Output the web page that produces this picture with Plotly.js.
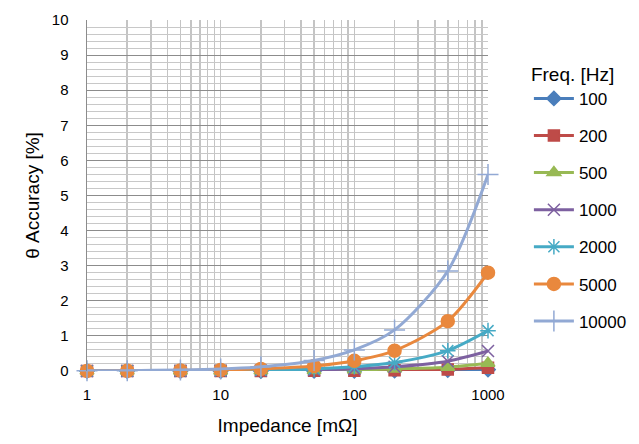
<!DOCTYPE html>
<html>
<head>
<meta charset="utf-8">
<script src="https://cdn.plot.ly/plotly-3.0.1.min.js"></script>
<style>html,body{margin:0;padding:0;background:#fff}#chart{width:639px;height:444px}</style>
</head>
<body>
<div id="chart"></div>
<script>
const impedance = [1, 2, 5, 10, 20, 50, 100, 200, 500, 1000];
const seriesNames = ["100", "200", "500", "1000", "2000", "5000", "10000"];
const f100   = [0, 0, 0, 0.001, 0.001, 0.003, 0.005, 0.01, 0.025, 0.04];
const f200   = [0, 0, 0.001, 0.001, 0.002, 0.005, 0.01, 0.02, 0.045, 0.09];
const f500   = [0, 0.001, 0.002, 0.003, 0.006, 0.015, 0.03, 0.06, 0.11, 0.22];
const f1000  = [0.001, 0.001, 0.003, 0.006, 0.012, 0.03, 0.06, 0.12, 0.28, 0.57];
const f2000  = [0.001, 0.002, 0.006, 0.012, 0.024, 0.06, 0.12, 0.24, 0.58, 1.15];
const f5000  = [0.003, 0.005, 0.015, 0.03, 0.06, 0.14, 0.29, 0.58, 1.42, 2.8];
const f10000 = [0.005, 0.01, 0.03, 0.06, 0.12, 0.3, 0.6, 1.17, 2.85, 5.6];
const yTicks = [0,1,2,3,4,5,6,7,8,9,10];
const xTicks = [1, 10, 100, 1000];

const values = [f100, f200, f500, f1000, f2000, f5000, f10000];
const colors = ["#4A7EBB", "#BE4B48", "#98B954", "#7D60A0", "#46AAC5", "#E9883D", "#92A9D4"];
const symbols = ["diamond", "square", "triangle-up", "x-thin-open", "asterisk-open", "circle", "cross-thin-open"];
const sizes = [11, 11, 12, 12, 13, 13, 15];

const traces = values.map((v, i) => ({
  x: impedance, y: v, name: seriesNames[i], type: "scatter", mode: "lines+markers",
  legendgroup: "g" + i,
  line: {color: colors[i], width: 3, shape: "spline", smoothing: 0.8},
  marker: {symbol: symbols[i], size: sizes[i], color: colors[i], line: {color: colors[i], width: 1.5}},
  cliponaxis: false
}));

const layout = {
  width: 639, height: 444,
  margin: {l: 87, r: 151, t: 20, b: 73, autoexpand: false},
  paper_bgcolor: "#fff", plot_bgcolor: "#fff",
  font: {family: "Liberation Sans, Arial, sans-serif", color: "#000"},
  showlegend: true,
  legend: {
    x: 1.102, xanchor: "left", y: 0.897, yanchor: "top",
    title: {text: "Freq. [Hz]", font: {size: 19}},
    font: {size: 17}, traceorder: "grouped", tracegroupgap: 12,
    itemwidth: 40, bgcolor: "rgba(0,0,0,0)"
  },
  xaxis: {
    type: "log", range: [0, 3], automargin: false,
    tickvals: xTicks, ticktext: xTicks.map(String),
    tickfont: {size: 15}, ticks: "", ticklabelstandoff: 13,
    showgrid: true, gridcolor: "#C4C4C4", gridwidth: 1.5,
    minor: {dtick: "D1", showgrid: true, gridcolor: "#C4C4C4", gridwidth: 1.5},
    showline: false, zeroline: false,
    title: {text: "Impedance [mΩ]", font: {size: 19}, standoff: 16}
  },
  yaxis: {
    range: [0, 10], automargin: false, tickvals: yTicks, ticktext: yTicks.map(String),
    tickfont: {size: 15}, ticks: "", ticklabelstandoff: 14,
    showgrid: true, gridcolor: "#8C8C8C", gridwidth: 1,
    minor: {dtick: 0.2, showgrid: true, gridcolor: "#C8C8C8", gridwidth: 1},
    showline: true, linecolor: "#8C8C8C", linewidth: 1.5, zeroline: false,
    title: {text: "θ Accuracy [%]", font: {size: 19}, standoff: 7}
  }
};

Plotly.newPlot("chart", traces, layout, {staticPlot: true, displayModeBar: false});
</script>
</body>
</html>
